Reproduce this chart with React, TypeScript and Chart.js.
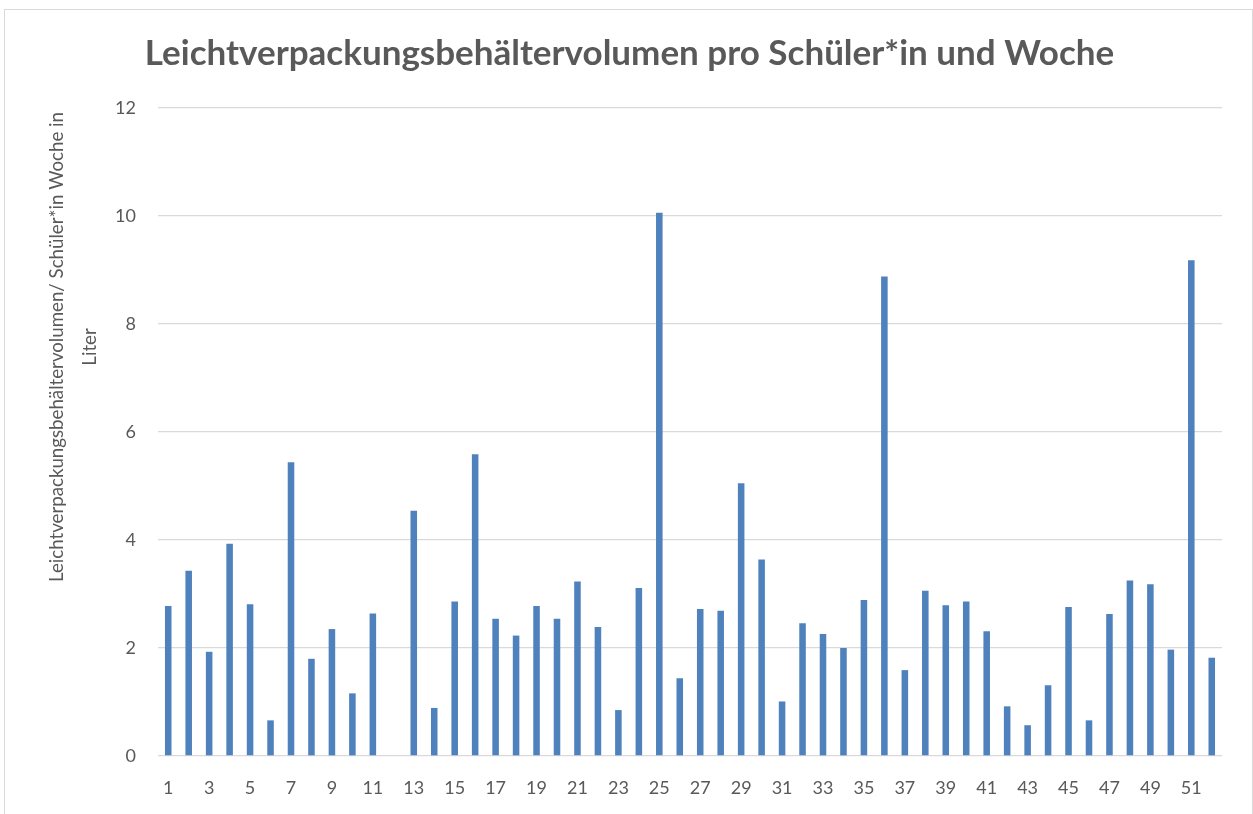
import React, { useEffect, useRef } from "react";
import { Chart, registerables } from "chart.js";

Chart.register(...registerables);

const TITLE = "Leichtverpackungsbehältervolumen pro Schüler*in und Woche";
const Y_TITLE_LINES = ["Leichtverpackungsbehältervolumen/ Schüler*in Woche in", "Liter"];

const weeks = [
  "1", "2", "3", "4", "5", "6", "7", "8", "9", "10",
  "11", "12", "13", "14", "15", "16", "17", "18", "19", "20",
  "21", "22", "23", "24", "25", "26", "27", "28", "29", "30",
  "31", "32", "33", "34", "35", "36", "37", "38", "39", "40",
  "41", "42", "43", "44", "45", "46", "47", "48", "49", "50",
  "51", "52",
];

const volumes = [
  2.78, 3.43, 1.93, 3.93, 2.81, 0.66, 5.44, 1.8, 2.35, 1.16,
  2.64, 0, 4.54, 0.89, 2.86, 5.59, 2.54, 2.23, 2.78, 2.54,
  3.23, 2.39, 0.85, 3.11, 10.06, 1.44, 2.72, 2.69, 5.05, 3.64,
  1.01, 2.46, 2.26, 2.0, 2.89, 8.88, 1.59, 3.06, 2.79, 2.86,
  2.31, 0.92, 0.57, 1.31, 2.76, 0.66, 2.63, 3.25, 3.18, 1.97,
  9.18, 1.82,
];

const TEXT = "#595959";
const GRID = "#D9D9D9";
const BAR = "#4F81BD";
const FONT = "Lato, 'Open Sans', sans-serif";

const yTitlePlugin = {
  id: "yTitle",
  afterDraw(chart: any) {
    const ctx = chart.ctx;
    ctx.save();
    ctx.translate(57, 347);
    ctx.rotate(-Math.PI / 2);
    ctx.fillStyle = TEXT;
    ctx.font = `18.7px ${FONT}`;
    ctx.textAlign = "center";
    ctx.textBaseline = "middle";
    Y_TITLE_LINES.forEach((line, i) => ctx.fillText(line, 0, i * 33));
    ctx.restore();
  },
};

export default function App() {
  const ref = useRef<HTMLCanvasElement | null>(null);

  useEffect(() => {
    if (!ref.current) return;
    const chart = new Chart(ref.current, {
      type: "bar",
      data: {
        labels: weeks,
        datasets: [
          {
            data: volumes,
            backgroundColor: BAR,
            borderWidth: 0,
            categoryPercentage: 1,
            barPercentage: 0.32,
          },
        ],
      },
      options: {
        animation: false,
        responsive: false,
        devicePixelRatio: 1,
        layout: { padding: { left: 37, right: 31, top: 0, bottom: 0 } },
        plugins: {
          legend: { display: false },
          tooltip: { enabled: false },
          title: {
            display: true,
            text: TITLE,
            color: TEXT,
            font: { family: FONT, size: 35, weight: "bold" },
            padding: { top: 33, bottom: 33 },
          },
        },
        scales: {
          x: {
            grid: { display: false, drawTicks: false },
            border: { display: false },
            ticks: {
              color: TEXT,
              font: { family: FONT, size: 18 },
              autoSkip: false,
              maxRotation: 0,
              minRotation: 0,
              padding: 21,
              callback: (_v: any, i: number) => (i % 2 === 0 ? weeks[i] : ""),
            },
            afterFit: (s: any) => {
              s.height = 58;
            },
          },
          y: {
            min: 0,
            max: 12,
            grid: { color: GRID, lineWidth: 1.3, drawTicks: false },
            border: { display: false },
            ticks: {
              stepSize: 2,
              color: TEXT,
              font: { family: FONT, size: 18 },
              padding: 22,
            },
            afterFit: (s: any) => {
              s.width = 121;
            },
          },
        },
      },
      plugins: [yTitlePlugin],
    });
    return () => chart.destroy();
  }, []);

  return (
    <div style={{ position: "fixed", left: 0, top: 0, width: 1253, height: 814, background: "#fff" }}>
      <canvas ref={ref} width={1253} height={814} style={{ display: "block" }} />
      <div
        style={{
          position: "absolute",
          left: 4,
          top: 9,
          width: 1247,
          height: 830,
          border: `1px solid ${GRID}`,
          pointerEvents: "none",
        }}
      />
    </div>
  );
}
